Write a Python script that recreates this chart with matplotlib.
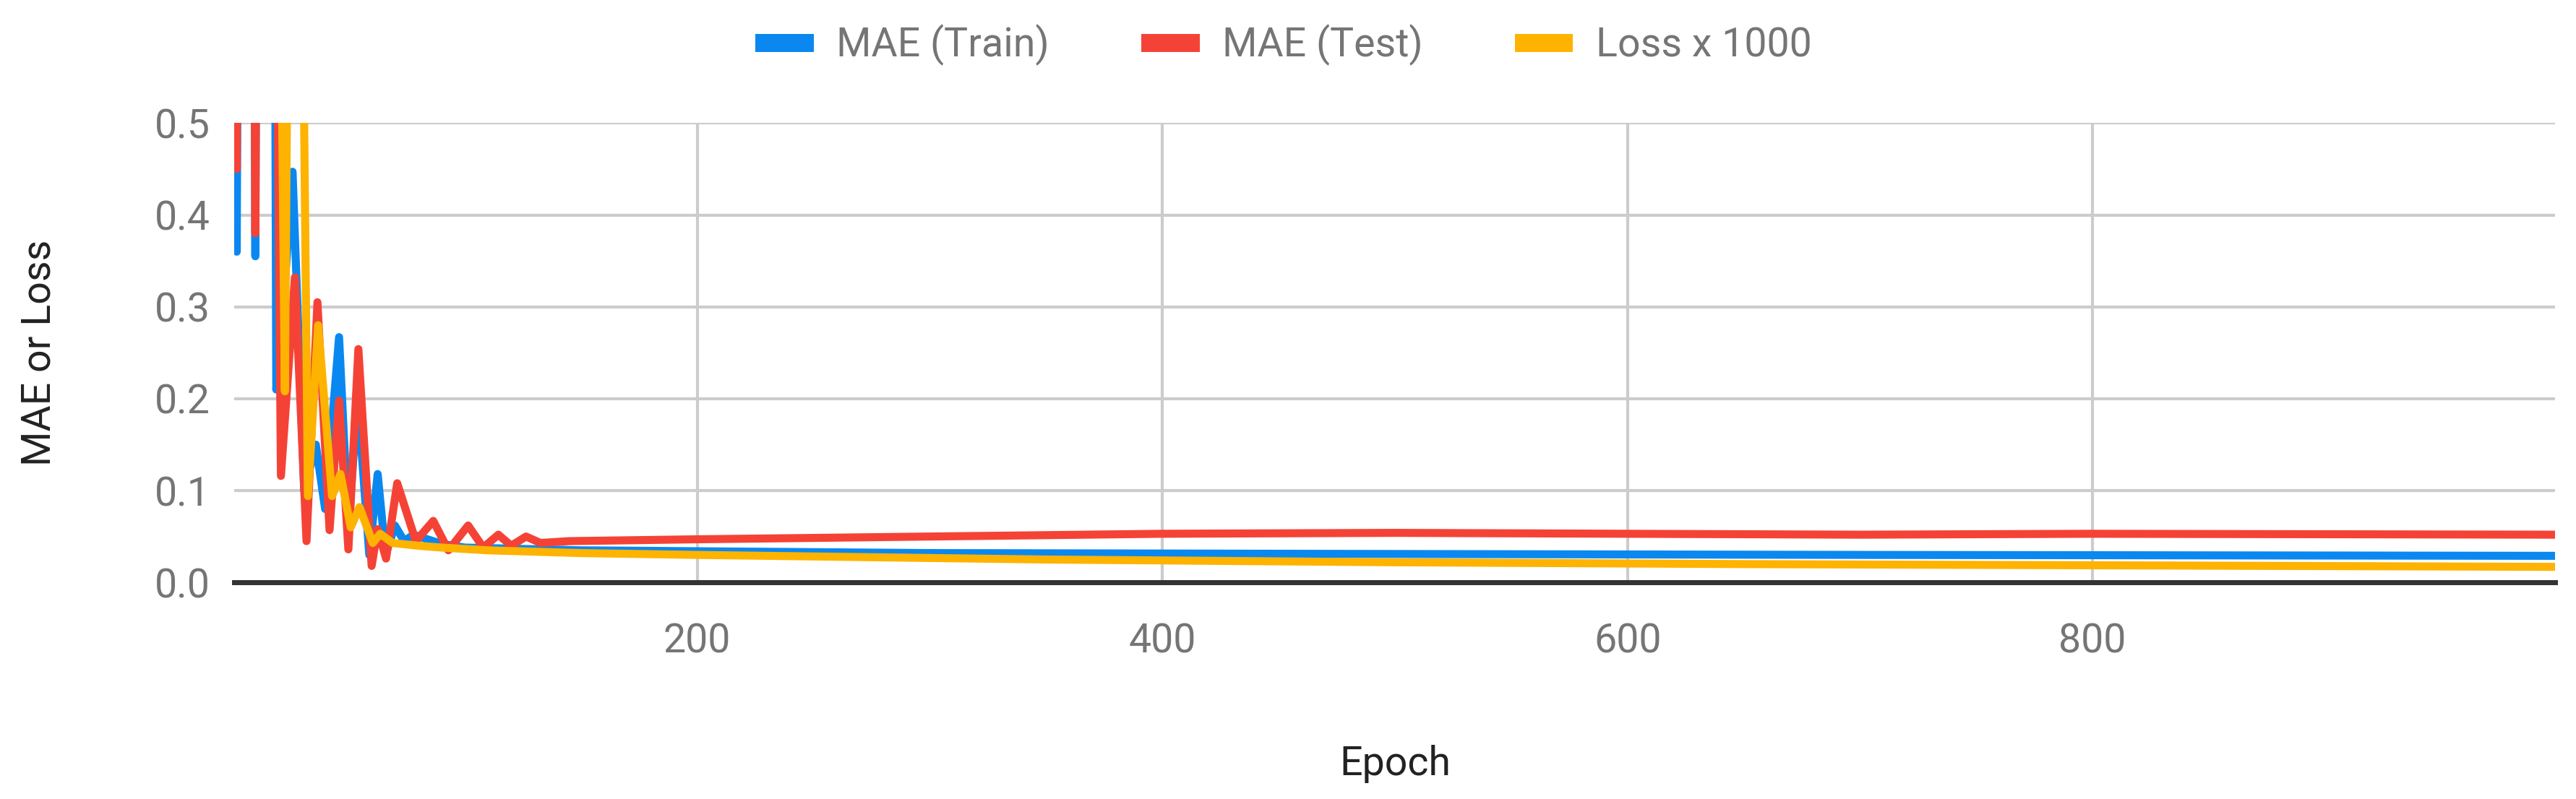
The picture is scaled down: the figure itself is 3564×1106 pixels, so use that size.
import matplotlib
matplotlib.use("Agg")
import matplotlib.pyplot as plt

train_epochs = [1, 2, 3, 9, 10, 11, 18, 19, 22, 26, 31, 36, 40, 46, 50, 54, 59, 62.6, 66, 70, 74, 78, 90, 100, 150, 300, 500, 700, 999]
train_vals   = [1.0, 0.36, 1.0, 1.0, 0.355, 1.0, 1.0, 0.21, 0.30, 0.447, 0.10, 0.15, 0.08, 0.267, 0.06, 0.20, 0.03, 0.118, 0.03, 0.062, 0.045, 0.052, 0.042, 0.038, 0.035, 0.032, 0.031, 0.030, 0.029]

test_epochs = [1, 2, 3, 9, 10, 11, 18, 21, 27, 32, 36.7, 41.9, 46, 50, 54.3, 60, 62.6, 66.2, 71, 79, 86.5, 93, 101.5, 108, 114.5, 120, 126.4, 132.6, 145, 200, 300, 400, 500, 600, 700, 800, 999]
test_vals   = [1.0, 0.45, 1.0, 1.0, 0.38, 1.0, 1.0, 0.116, 0.332, 0.045, 0.305, 0.057, 0.198, 0.036, 0.254, 0.018, 0.058, 0.026, 0.108, 0.045, 0.067, 0.035, 0.062, 0.038, 0.052, 0.040, 0.050, 0.043, 0.045, 0.047, 0.050, 0.053, 0.054, 0.053, 0.052, 0.053, 0.052]

loss_epochs = [1, 19.6, 22.7, 25, 29, 32.6, 37, 43, 46.6, 51, 54.8, 60.5, 63.7, 69, 80, 90, 110, 150, 200, 350, 500, 650, 999]
loss_vals   = [1.0, 1.0, 0.208, 1.0, 1.0, 0.094, 0.28, 0.094, 0.118, 0.060, 0.082, 0.043, 0.053, 0.043, 0.040, 0.038, 0.035, 0.032, 0.030, 0.025, 0.022, 0.020, 0.017]

labels = ["MAE (Train)", "MAE (Test)", "Loss x 1000"]
colors = ["#0a88f0", "#f44336", "#fdb300"]
xticks = [200, 400, 600, 800]
yticks = [0.0, 0.1, 0.2, 0.3, 0.4, 0.5]

plt.rcParams['font.family'] = ['Roboto', 'DejaVu Sans']
grey = "#757575"
fig = plt.figure(figsize=(17.82, 5.53), dpi=200)
ax = fig.add_axes([0.091, 0.271, 0.901, 0.575])

for xs, ys, lab, c in zip([train_epochs, test_epochs, loss_epochs],
                          [train_vals, test_vals, loss_vals], labels, colors):
    ax.plot(xs, ys, color=c, lw=4, label=lab, solid_joinstyle='round')

ax.set_xlim(1, 999)
ax.set_ylim(0, 0.5)
ax.set_xticks(xticks)
ax.set_yticks(yticks)
ax.set_yticklabels([f"{v:.1f}" for v in yticks])
ax.grid(True, color="#cccccc", lw=1.5)
ax.set_axisbelow(True)
for s in ["top", "right", "left"]:
    ax.spines[s].set_visible(False)
ax.spines["bottom"].set_color("#333333")
ax.spines["bottom"].set_linewidth(2.5)
ax.spines["bottom"].set_zorder(5)
ax.tick_params(length=0, labelsize=20, colors=grey, pad=12)
ax.tick_params(axis='x', pad=20)
ax.set_xlabel("Epoch", fontsize=20, color="#222222", labelpad=42)
ax.set_ylabel("MAE or Loss", fontsize=20, color="#222222", labelpad=48)

leg = fig.legend(loc="upper center", bbox_to_anchor=(0.5, 1.015), ncol=3, frameon=False,
                 fontsize=20, handlelength=1.0, columnspacing=2.5, handletextpad=0.8)
for t in leg.get_texts():
    t.set_color(grey)
for h in leg.get_lines():
    h.set_linewidth(9)
fig.savefig("out.png", dpi=200)
